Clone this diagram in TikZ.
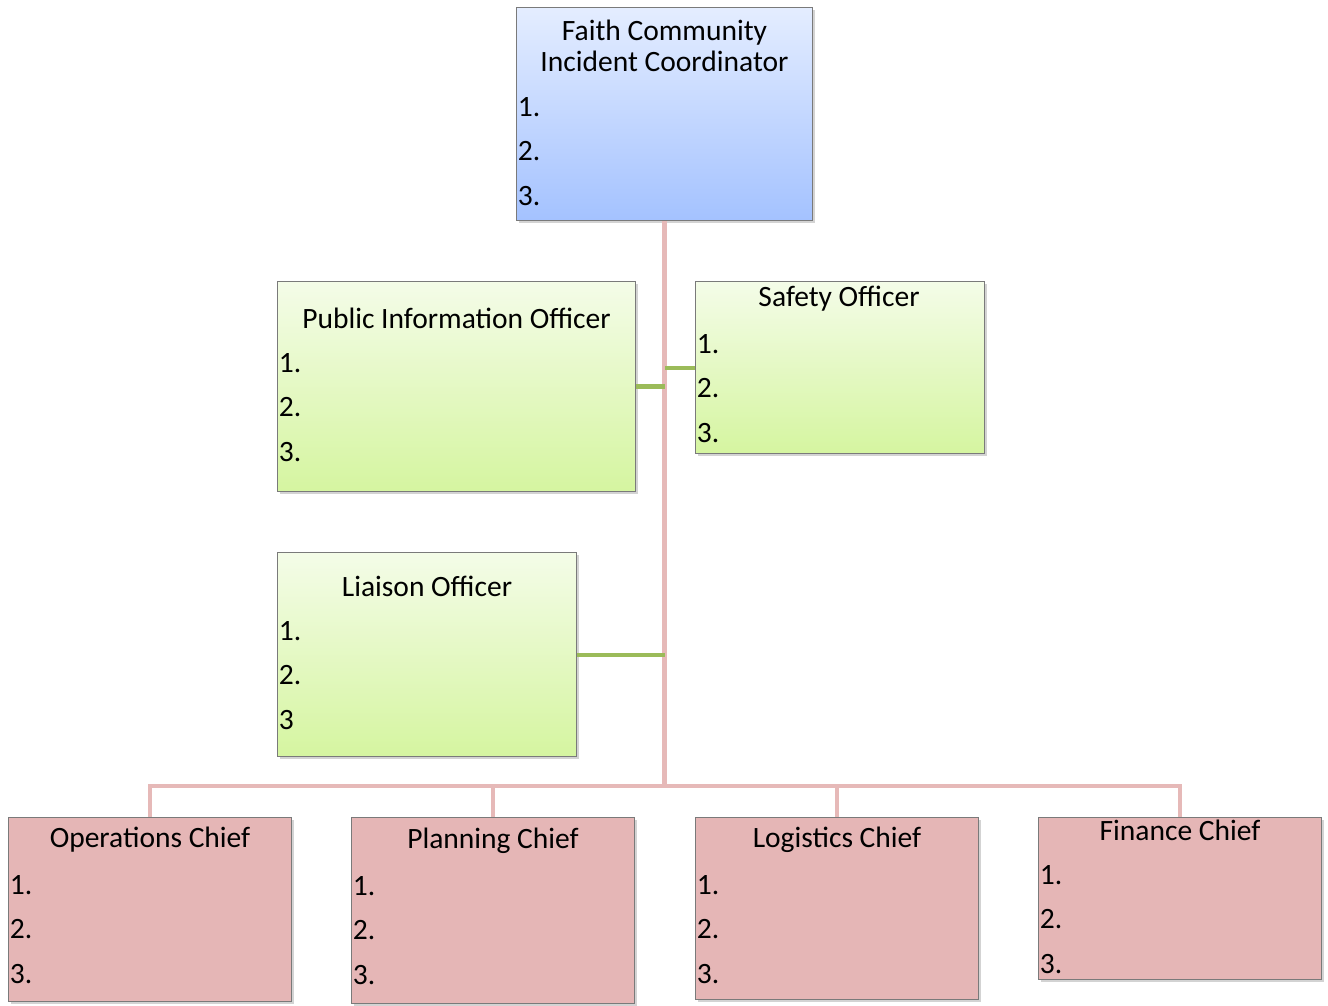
\documentclass[tikz,border=0pt]{standalone}
\usepackage{fontspec}
\setmainfont{Carlito}
\usetikzlibrary{positioning, calc, shadows}
\definecolor{icTop}{HTML}{E4EDFF}
\definecolor{icBottom}{HTML}{A4C2FF}
\definecolor{staffTop}{HTML}{F4FCE8}
\definecolor{staffBottom}{HTML}{D5F5A0}
\definecolor{chiefFill}{HTML}{E5B6B6}
\definecolor{boxEdge}{HTML}{7A7A7A}
\definecolor{linePink}{HTML}{E6B9B8}
\definecolor{lineGreen}{HTML}{9BBB59}
\tikzset{
    x=0.02cm, y=-0.02cm, % one unit is one pixel of the layout, y runs down
    box/.style={draw=boxEdge, line width=0.6pt, anchor=north west, inner sep=0pt,
        drop shadow={opacity=0.35, shadow xshift=1.5pt, shadow yshift=-1.5pt}}, % every box
    topbox/.style={box, top color=icTop, bottom color=icBottom},
    staffbox/.style={box, top color=staffTop, bottom color=staffBottom},
    chiefbox/.style={box, fill=chiefFill},
    boxtitle/.style={font=\fontsize{16.8}{17.6}\selectfont, align=center, inner sep=0pt},
    item/.style={font=\fontsize{16.8}{17.6}\selectfont, anchor=west, inner sep=0pt},
    cmdline/.style={draw=linePink, line width=2.3pt}, % chain of command
    staffline/.style={draw=lineGreen, line width=2.3pt}, % command staff
}
\begin{document}
\begin{tikzpicture}
\useasboundingbox (0,0) rectangle (1328,1005);

% boxes
\node[topbox, minimum width=5.92cm, minimum height=4.26cm] (ic) at (516,7) {};
\node[staffbox, minimum width=7.16cm, minimum height=4.2cm] (pio) at (277,281) {};
\node[staffbox, minimum width=5.78cm, minimum height=3.44cm] (safety) at (695,281) {};
\node[staffbox, minimum width=5.98cm, minimum height=4.08cm] (liaison) at (277,552) {};
\node[chiefbox, minimum width=5.66cm, minimum height=3.68cm] (ops) at (8,817) {};
\node[chiefbox, minimum width=5.66cm, minimum height=3.72cm] (plan) at (351,817) {};
\node[chiefbox, minimum width=5.66cm, minimum height=3.64cm] (log) at (695,817) {};
\node[chiefbox, minimum width=5.66cm, minimum height=3.24cm] (fin) at (1038,817) {};

% titles
\node[boxtitle] (ic-t) at ($(ic.north)+(0,38.5)$) {Faith Community\\Incident Coordinator};
\node[boxtitle] (pio-t) at ($(pio.north)+(0,37)$) {Public Information Officer};
\node[boxtitle] (safety-t) at ($(safety.north)+(-1,18)$) {Safety Officer};
\node[boxtitle] (liaison-t) at ($(liaison.north)+(0,34)$) {Liaison Officer};
\node[boxtitle] (ops-t) at ($(ops.north)+(0,23)$) {Operations Chief};
\node[boxtitle] (plan-t) at ($(plan.north)+(0,24)$) {Planning Chief};
\node[boxtitle] (log-t) at ($(log.north)+(0,23)$) {Logistics Chief};
\node[boxtitle] (fin-t) at ($(fin.north)+(0,13)$) {Finance Chief};

% numbered lines (the liaison box has no dot after its 3)
\foreach \b/\first/\three in {ic/100/3., pio/82/3., safety/63/3., liaison/79/3,
                              ops/68/3., plan/69/3., log/68/3., fin/58/3.} {
    \node[item] (\b-1) at ($(\b.north west)+(1.5,\first)$) {1.};
    \node[item] (\b-2) at ($(\b.north west)+(1.5,\first+44.5)$) {2.};
    \node[item] (\b-3) at ($(\b.north west)+(1.5,\first+89)$) {\three};
}

% connectors
\coordinate (bus) at (663,786);
\draw[cmdline] (ic.south) -- (ic.south |- bus);
\draw[cmdline] (ops.north) -- (ops.north |- bus) -| (fin.north);
\draw[cmdline] (plan.north) -- (plan.north |- bus);
\draw[cmdline] (log.north) -- (log.north |- bus);
\draw[staffline] (pio.east) -- (pio.east -| ic.south);
\draw[staffline] (safety.west) -- (safety.west -| ic.south);
\draw[staffline] (liaison.east) -- (liaison.east -| ic.south);
\end{tikzpicture}
\end{document}
